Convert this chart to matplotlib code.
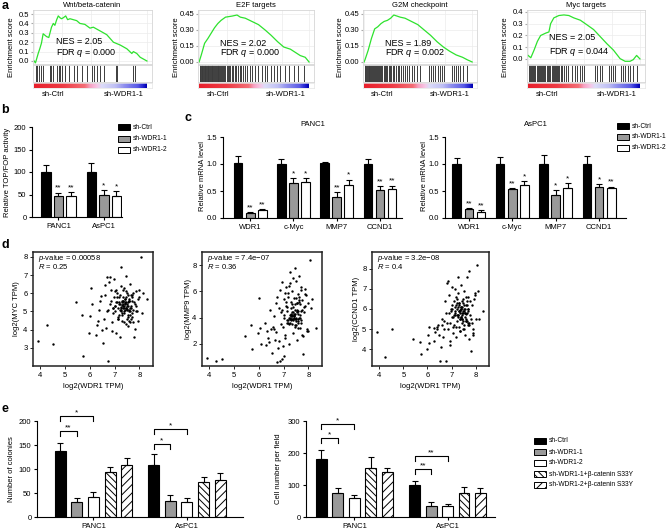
import numpy as np
import matplotlib
matplotlib.use('Agg')
import matplotlib.pyplot as plt
from matplotlib.patches import Rectangle
from matplotlib.colors import LinearSegmentedColormap

plt.rcParams.update({
    'font.family': ['Liberation Sans', 'DejaVu Sans'],
    'mathtext.fontset': 'custom',
    'mathtext.rm': 'Liberation Sans',
    'mathtext.it': 'Liberation Sans:italic',
    'font.size': 5.5,
    'hatch.linewidth': 0.7,
    'axes.linewidth': 0.8,
    'xtick.major.width': 0.8, 'ytick.major.width': 0.8,
    'xtick.major.size': 2.5, 'ytick.major.size': 2.5,
    'xtick.major.pad': 1.5, 'ytick.major.pad': 1.5,
    'xtick.direction': 'out', 'ytick.direction': 'out',
})

# ---------------- data: panel a (GSEA) ----------------
gsea_titles = ['Wnt/beta-catenin', 'E2F targets', 'G2M checkpoint', 'Myc targets']
gsea_nes = ['2.05', '2.02', '1.89', '2.05']
gsea_fdr = ['0.000', '0.000', '0.002', '0.044']

wnt_rank = [0, 1.2, 3.6, 5, 6.5, 8, 11, 13, 15.4, 17, 18.4, 20, 21.4, 23, 24.3, 25.8, 28, 29.7,
            31.8, 34.7, 37.7, 40.6, 45, 49.5, 52.5, 58.5, 64.4, 70.3, 76.3, 82.2, 86.6, 88, 91, 94, 100]
wnt_es = [0.0, -0.02, 0.08, 0.13, 0.19, 0.29, 0.26, 0.25, 0.36, 0.40, 0.38, 0.44, 0.48, 0.46, 0.45,
          0.46, 0.48, 0.44, 0.45, 0.44, 0.43, 0.40, 0.39, 0.35, 0.36, 0.32, 0.28, 0.20, 0.17, 0.13,
          0.08, 0.10, 0.08, 0.04, 0.0]
wnt_hits = [1.5, 2.7, 4.5, 6.2, 8, 14, 15.4, 17, 20, 21.7, 22.8, 24.6, 27.3, 30.9, 35.3, 38.3,
            42.7, 47.2, 51, 53, 55.5, 58.5, 62, 72.4, 73.9, 87.5, 89.6]

e2f_rank = [0, 2, 5, 8, 11, 14, 17, 20, 24, 30, 34.5, 37.5, 42, 48, 54, 60, 65.5, 71.4, 77, 83,
            89, 92, 96.5, 100]
e2f_es = [0.0, 0.066, 0.175, 0.22, 0.27, 0.32, 0.36, 0.39, 0.42, 0.43, 0.44, 0.42, 0.41, 0.38,
          0.35, 0.30, 0.25, 0.19, 0.14, 0.12, 0.08, 0.06, 0.044, 0.0]
e2f_hits = [0.5, 1, 1.5, 2.2, 3, 3.5, 4.2, 5, 5.6, 6.3, 7, 7.8, 8.5, 9.2, 10, 10.6, 11.4, 12, 13,
            13.7, 14.5, 15.2, 16, 17, 17.6, 18.5, 19.3, 20, 21, 22, 23, 24, 25, 26, 27.5, 28.5, 30,
            31, 32.5, 34, 35.5, 37, 38.5, 40, 42, 44, 46, 48, 51, 54, 57, 60, 62, 65, 68, 71, 74,
            78, 82, 86, 90, 95]

g2m_rank = [0, 1, 3.8, 6.8, 9.8, 12.7, 15.7, 18.6, 21.6, 24.6, 27.5, 30.5, 33.4, 37.9, 43.8,
            49.7, 55.6, 61.5, 67.5, 73.4, 79.3, 85.2, 91.1, 95.6, 100]
g2m_es = [0.0, 0.025, 0.11, 0.22, 0.31, 0.33, 0.36, 0.38, 0.39, 0.41, 0.44, 0.43, 0.42, 0.41,
          0.38, 0.35, 0.30, 0.25, 0.19, 0.14, 0.10, 0.066, 0.044, 0.02, 0.0]
g2m_hits = [0.5, 1.2, 2, 2.8, 3.5, 4.3, 5, 5.8, 6.5, 7.3, 8, 9, 10, 11, 12, 13, 14, 15, 16, 17,
            18, 19, 20, 21.5, 23, 24, 25, 26.5, 28, 29.5, 31, 32.5, 34, 36, 38, 40, 42, 44, 46,
            49, 52, 60, 62, 64, 66, 68, 70, 72, 74, 81, 83, 85, 87, 89, 92, 95]

myc_rank = [0, 2.4, 5.3, 8.3, 11.2, 15.7, 18.6, 20.1, 23, 27.5, 32, 36.4, 40.8, 46.7, 52.7,
            58.6, 64.5, 70.4, 76.3, 82.2, 86.7, 91.1, 94, 97, 100]
myc_es = [0.03, 0.01, 0.075, 0.15, 0.20, 0.22, 0.23, 0.30, 0.35, 0.37, 0.375, 0.37, 0.35, 0.33,
          0.29, 0.25, 0.19, 0.13, 0.075, 0.003, -0.02, -0.02, -0.006, 0.03, 0.0]
myc_hits = [0.5, 1.5, 2.5, 3.5, 4.5, 5.5, 6.5, 7.5, 8.5, 9.5, 10.5, 11.5, 12.5, 13.5, 14.5, 15.5,
            17, 18, 19, 20, 21, 22, 23, 24, 25, 26, 27, 28, 29, 30, 32, 34, 36, 39, 42, 44, 46,
            48, 50, 60, 62, 64, 66, 72, 74, 76, 78, 83, 85, 87, 89, 91, 94, 97]

# ---------------- data: panel b ----------------
series3 = ['sh-Ctrl', 'sh-WDR1-1', 'sh-WDR1-2']
series5 = ['sh-Ctrl', 'sh-WDR1-1', 'sh-WDR1-2',
           'sh-WDR1-1+β-catenin S33Y', 'sh-WDR1-2+β-catenin S33Y']
cell_lines = ['PANC1', 'AsPC1']
b_vals = [[100, 100], [47, 50], [47, 47]]
b_errs = [[16, 21], [7, 9], [9, 10]]
b_stars = [['', ''], ['**', '*'], ['**', '*']]

# ---------------- data: panel c ----------------
c_genes = ['WDR1', 'c-Myc', 'MMP7', 'CCND1']
c_panc1_vals = [[1.02, 1.00, 1.02, 1.00], [0.09, 0.64, 0.39, 0.52], [0.14, 0.67, 0.62, 0.54]]
c_panc1_errs = [[0.12, 0.10, 0.02, 0.09], [0.02, 0.10, 0.09, 0.07], [0.02, 0.07, 0.09, 0.06]]
c_panc1_stars = [['', '', '', ''], ['**', '*', '**', '**'], ['**', '*', '*', '**']]
c_aspc1_vals = [[1.00, 1.00, 1.00, 1.00], [0.16, 0.54, 0.43, 0.58], [0.12, 0.61, 0.56, 0.56]]
c_aspc1_errs = [[0.12, 0.13, 0.16, 0.14], [0.02, 0.01, 0.08, 0.05], [0.03, 0.07, 0.08, 0.02]]
c_aspc1_stars = [['', '', '', ''], ['**', '**', '*', '*'], ['**', '*', '*', '**']]

# ---------------- data: panel d ----------------
wdr1_tpm = [3.92, 4.25, 4.52, 5.42, 5.70, 5.72, 6.05, 6.07, 6.02, 5.97,
            6.25, 6.38, 6.31, 6.28, 6.45, 6.62, 6.70, 6.82, 6.52, 6.75,
            7.25, 7.45, 8.05, 8.30, 7.80, 7.82, 6.85, 6.90, 6.95, 7.00,
            7.02, 7.05, 7.08, 7.10, 7.12, 7.15, 7.18, 7.20, 7.22, 7.24,
            7.26, 7.28, 7.30, 7.32, 7.34, 7.36, 7.38, 7.40, 7.42, 7.44,
            7.46, 7.48, 7.50, 7.52, 7.54, 7.56, 7.58, 7.60, 7.62, 7.64,
            7.66, 7.68, 7.70, 7.72, 7.75, 7.78, 7.85, 7.90, 7.95, 8.00,
            6.60, 6.65, 6.72, 6.78, 6.88, 6.92, 6.98, 7.03, 7.07, 7.13,
            7.17, 7.21, 7.27, 7.31, 7.35, 7.39, 7.43, 7.47, 7.51, 7.55,
            7.59, 7.63, 7.67, 7.71, 7.74, 7.83, 7.88, 7.93, 8.10, 8.15,
            6.40, 6.55, 6.80, 6.97, 7.11, 7.23, 7.29, 7.33, 7.37, 7.41,
            7.45, 7.49, 7.53, 7.57, 7.61, 7.65, 7.69, 7.73, 7.87, 7.97,
            6.48, 6.68, 6.86, 7.01, 7.14, 7.19, 7.25, 7.34, 7.44, 7.52,
            7.58, 7.36, 7.28, 7.40, 7.48, 7.62, 7.70, 7.06, 6.93, 7.16,
            7.32, 7.38, 7.46, 7.54, 7.30, 7.42, 7.50, 7.24, 7.34, 7.60]
myc_tpm = [3.35, 4.23, 3.20, 5.51, 4.78, 2.56, 6.28, 5.42, 4.73, 3.81,
           3.70, 5.09, 4.45, 4.26, 5.87, 6.46, 6.92, 6.92, 3.26, 2.29,
           7.47, 6.94, 8.02, 5.69, 3.62, 4.03, 5.6, 3.9, 4.9, 6.1,
           5.3, 3.8, 5.5, 6.0, 4.6, 5.2, 5.8, 3.6, 5.4, 6.4,
           5.1, 4.8, 5.6, 5.3, 6.2, 4.4, 5.0, 5.7, 5.5, 4.3,
           5.2, 6.0, 5.4, 4.7, 5.9, 5.1, 4.5, 5.6, 6.5, 5.0,
           4.6, 5.3, 5.8, 4.9, 6.0, 5.5, 6.1, 5.0, 4.5, 5.8,
           5.9, 4.1, 5.1, 6.6, 4.4, 5.2, 5.8, 5.0, 6.2, 4.7,
           5.4, 5.9, 5.2, 4.9, 5.6, 6.3, 5.1, 5.5, 4.6, 5.3,
           5.7, 4.8, 5.2, 5.9, 4.4, 5.4, 5.0, 5.7, 4.9, 6.0,
           5.6, 4.6, 5.4, 6.8, 5.8, 5.1, 5.5, 5.2, 4.9, 5.7,
           6.1, 5.3, 4.8, 5.6, 5.2, 5.9, 4.7, 5.1, 5.3, 6.2,
           4.0, 5.0, 6.2, 5.3, 4.6, 5.5, 5.0, 5.8, 5.2, 5.5,
           5.0, 5.3, 4.5, 5.4, 5.1, 4.4, 5.6, 5.5, 5.2, 4.8,
           5.6, 5.2, 5.8, 4.2, 5.35, 5.45, 5.15, 5.25, 5.4, 5.6]
mmp9_tpm = [0.90, 0.70, 0.80, 2.6, 3.4, 1.6, 3.2, 2.0, 5.5, 2.8,
            3.6, 2.4, 3.0, 1.9, 4.6, 3.1, 5.1, 2.2, 1.3, 0.6,
            7.5, 7.8, 8.4, 3.2, 1.2, 4.8, 6.1, 3.5, 0.8, 5.4,
            4.2, 2.7, 4.9, 6.3, 3.8, 4.5, 5.6, 2.0, 4.0, 6.6,
            3.9, 4.7, 5.2, 3.5, 6.0, 4.4, 2.8, 5.5, 4.1, 3.3,
            4.6, 6.8, 3.9, 5.1, 2.3, 4.3, 5.8, 3.6, 7.2, 4.0,
            5.0, 3.2, 6.3, 4.5, 5.3, 2.6, 4.9, 5.7, 3.0, 5.1,
            4.1, 2.3, 5.6, 1.7, 4.4, 6.7, 3.3, 1.1, 5.9, 4.8,
            3.6, 6.4, 4.2, 3.8, 5.0, 7.0, 4.3, 3.4, 5.5, 4.6,
            3.9, 5.2, 4.0, 6.1, 2.7, 4.4, 5.8, 3.1, 4.7, 5.4,
            2.1, 3.3, 4.7, 1.8, 5.2, 3.5, 4.3, 3.9, 4.8, 4.1,
            5.0, 3.7, 4.5, 3.2, 5.6, 4.2, 3.8, 4.6, 6.2, 3.0,
            3.1, 2.9, 0.65, 4.0, 3.6, 5.9, 4.0, 4.2, 3.9, 4.4,
            3.7, 3.9, 4.1, 4.0, 3.4, 5.3, 3.6, 2.4, 4.6, 3.8,
            4.1, 3.8, 4.3, 5.1, 3.9, 4.2, 4.0, 3.6, 4.4, 4.5]
ccnd1_tpm = [4.85, 3.60, 5.00, 4.50, 4.35, 3.75, 4.30, 5.10, 4.70, 4.00,
             5.05, 5.00, 4.85, 4.40, 5.20, 5.50, 5.00, 7.30, 3.40, 3.40,
             7.60, 6.10, 8.20, 5.90, 3.90, 5.50, 7.40, 5.80, 4.20, 6.20,
             5.6, 4.8, 6.4, 5.2, 7.0, 5.9, 4.6, 6.6, 5.4, 6.0,
             5.7, 6.8, 5.1, 6.3, 5.5, 4.9, 6.1, 7.2, 5.8, 5.3,
             6.5, 5.0, 5.9, 6.9, 5.6, 4.7, 6.2, 5.4, 7.6, 5.8,
             6.0, 5.2, 6.6, 4.5, 5.7, 6.4, 5.3, 4.8, 6.7, 5.5,
             5.2, 4.6, 6.4, 5.8, 6.7, 5.3, 5.9, 7.1, 5.6, 6.1,
             5.1, 6.5, 5.7, 6.2, 4.9, 6.0, 5.5, 6.3, 5.0, 5.8,
             6.6, 5.4, 6.0, 5.2, 7.9, 6.2, 5.0, 6.5, 6.9, 5.5,
             5.1, 4.1, 5.3, 6.0, 5.7, 6.3, 5.9, 5.5, 6.1, 5.6,
             6.4, 5.8, 5.2, 6.0, 5.4, 6.2, 5.9, 5.3, 4.7, 6.8,
             4.7, 5.4, 5.0, 6.0, 5.8, 6.2, 5.6, 5.9, 5.7, 6.0,
             5.5, 5.8, 6.1, 5.6, 5.9, 6.4, 5.3, 5.1, 4.4, 5.7,
             5.9, 6.0, 5.4, 5.8, 6.3, 5.5, 6.2, 5.7, 5.95, 5.75]
d_ylabels = ['log2(MYC TPM)', 'log2(MMP9 TPM)', 'log2(CCND1 TPM)']
d_pvalues = ['0.00058', '7.4e\u221207', '3.2e\u221208']
d_rvalues = ['0.25', '0.36', '0.4']

# ---------------- data: panel e ----------------
e_col_vals = [[137, 108], [31, 33], [41, 31], [93, 73], [108, 77]]
e_col_errs = [[17, 23], [9, 13], [11, 9], [11, 10], [15, 15]]
e_col_brackets = [(0, 0, 1, 179, '**'), (0, 0, 2, 210, '*'), (1, 0, 1, 152, '*'), (1, 0, 2, 183, '*')]
e_cell_vals = [[181, 100], [75, 34], [59, 35], [153, 74], [140, 74]]
e_cell_errs = [[28, 12], [16, 13], [10, 7], [34, 19], [13, 18]]
e_cell_brackets = [(0, 0, 1, 247, '*'), (0, 0, 2, 290, '*'), (1, 0, 1, 150, '**'), (1, 0, 2, 191, '**')]

# ---------------- figure helpers ----------------
W, H = 668, 530
fig = plt.figure(figsize=(W / 100, H / 100), dpi=100)


def add_ax(l, t, r, b):
    return fig.add_axes([l / W, 1 - b / H, (r - l) / W, (b - t) / H])


def ftext(x, y, s, **kw):
    return fig.text(x / W, 1 - y / H, s, **kw)


# panel letters
for (lx, ly, lt) in [(5, 6, 'a'), (5, 110, 'b'), (188, 118, 'c'), (5, 245, 'd'), (5, 409, 'e')]:
    ftext(lx, ly, lt, fontsize=9, fontweight='bold', ha='center', va='center')

# ---------------- panel a ----------------
gsea_ranks = [wnt_rank, e2f_rank, g2m_rank, myc_rank]
gsea_es = [wnt_es, e2f_es, g2m_es, myc_es]
gsea_hits = [wnt_hits, e2f_hits, g2m_hits, myc_hits]
a_x = [(33, 152), (198, 314), (363, 477), (527, 645)]
a_ylims = [(-0.032, 0.543), (-0.019, 0.487), (-0.019, 0.487), (-0.043, 0.417)]
a_yticks = [[0, 0.1, 0.2, 0.3, 0.4, 0.5], [0, 0.15, 0.30, 0.45], [0, 0.15, 0.30, 0.45],
            [0, 0.1, 0.2, 0.3, 0.4]]
a_fmt = ['%.1f', '%.2f', '%.2f', '%.1f']
a_nes_y = [(42, 53), (43, 53), (43, 53), (37, 52)]
a_ylab_x = [12, 176, 340, 505]
cmap = LinearSegmentedColormap.from_list('rank', [
    (0.0, '#e8202c'), (0.25, '#ee3a44'), (0.45, '#f46e76'), (0.5, '#f7a3c4'),
    (0.56, '#f6c6e6'), (0.6, '#dcdcf8'), (0.72, '#c0c0f4'), (0.8, '#9090ee'),
    (0.92, '#5a5ae6'), (0.97, '#2020d0'), (1.0, '#0000b0')])
XL = (-1, 104.5)
for i in range(4):
    l, r = a_x[i]
    ax = add_ax(l, 10, r, 64)
    ax.plot(gsea_ranks[i], gsea_es[i], color='#2ee22e', lw=0.9)
    ax.set_xlim(*XL)
    ax.set_ylim(*a_ylims[i])
    ax.set_yticks(a_yticks[i])
    ax.set_yticklabels([a_fmt[i] % v for v in a_yticks[i]])
    ax.set_xticks([0, 25, 50, 75, 100])
    ax.tick_params(axis='x', length=0, labelbottom=False)
    ax.tick_params(axis='y', length=1.5, color='#aaaaaa', labelsize=5.5, pad=1)
    ax.grid(True, color='#ececec', lw=0.5)
    ax.set_axisbelow(True)
    for s in ax.spines.values():
        s.set_color('#d6d6d6'); s.set_linewidth(0.6)
    ax.set_title(gsea_titles[i], fontsize=5.5, pad=2)
    ftext(a_ylab_x[i], 47, 'Enrichment score', rotation=90, ha='center', va='center', fontsize=5.5)
    nx = l + 0.19 * (r - l)
    ftext(nx, a_nes_y[i][0], 'NES = ' + gsea_nes[i], fontsize=6.5, va='center')
    ftext(nx, a_nes_y[i][1], 'FDR $q$ = ' + gsea_fdr[i], fontsize=6.5, va='center')

    hx = add_ax(l, 65, r, 82)
    hx.vlines(gsea_hits[i], 0, 1, color='#3c3c3c', lw=0.7)
    hx.set_xlim(*XL); hx.set_ylim(0, 1)
    hx.set_xticks([]); hx.set_yticks([])
    for s in hx.spines.values():
        s.set_color('#d6d6d6'); s.set_linewidth(0.6)

    cx = add_ax(l, 83, r, 88)
    cx.imshow(np.linspace(0, 1, 200)[None, :], aspect='auto', cmap=cmap, extent=(0, 100, 0, 1))
    cx.set_xlim(*XL); cx.set_ylim(0, 1)
    cx.set_xticks([]); cx.set_yticks([])
    for s in cx.spines.values():
        s.set_color('#e4e4e4'); s.set_linewidth(0.5)
    ftext(l + 0.17 * (r - l), 95, 'sh-Ctrl', ha='center', va='center', fontsize=5.5)
    ftext(l + 0.76 * (r - l), 95, 'sh-WDR1-1', ha='center', va='center', fontsize=5.5)

# ---------------- bar helpers ----------------
styles5 = [dict(fc='black'), dict(fc='#999999'), dict(fc='white'),
           dict(fc='white', hatch='\\\\\\\\\\'), dict(fc='white', hatch='////')]


def style_bar_axes(ax):
    ax.spines['top'].set_visible(False)
    ax.spines['right'].set_visible(False)
    ax.tick_params(labelsize=5.5)


def draw_bars(ax, vals, errs, offsets, width, stars=None):
    for j, (v, e) in enumerate(zip(vals, errs)):
        st = styles5[j]
        x = np.arange(len(v)) + offsets[j]
        ax.bar(x, v, width, color=st['fc'], edgecolor='black', linewidth=0.8,
               hatch=st.get('hatch'), zorder=2)
        ax.errorbar(x, v, yerr=[np.zeros(len(v)), e], fmt='none', ecolor='black',
                    elinewidth=0.8, capsize=2, capthick=0.8, zorder=3)
        if stars is not None:
            for k, s in enumerate(stars[j]):
                if s:
                    ax.annotate(s, (x[k], v[k] + e[k]), xytext=(0, 0.6), textcoords='offset points',
                                ha='center', va='bottom', fontsize=6)


def legend_px(x, ys, labels, n, w=12, h=6, fs=4.8):
    for j in range(n):
        st = styles5[j]
        r = Rectangle((x / W, 1 - (ys[j] + h / 2) / H), w / W, h / H, transform=fig.transFigure,
                      facecolor=st['fc'], edgecolor='black', lw=0.7, hatch=st.get('hatch'))
        fig.add_artist(r)
        ftext(x + w + 3, ys[j], labels[j], va='center', ha='left', fontsize=fs)


def brackets(ax, offs, items, tip):
    for (g, a, b, y, s) in items:
        x1, x2 = g + offs[a], g + offs[b]
        ax.plot([x1, x1, x2, x2], [y - tip, y, y, y - tip], color='black', lw=0.8, clip_on=False)
        ax.annotate(s, ((x1 + x2) / 2, y), xytext=(0, -0.3), textcoords='offset points',
                    ha='center', va='bottom', fontsize=6, annotation_clip=False)


# ---------------- panel b ----------------
ax = add_ax(32, 127, 122, 217)
offs3b = [-0.275, 0, 0.275]
draw_bars(ax, b_vals, b_errs, offs3b, 0.21, b_stars)
ax.set_xlim(-0.58, 1.40); ax.set_ylim(0, 200)
ax.set_yticks([0, 50, 100, 150, 200])
ax.set_xticks([0, 1]); ax.set_xticklabels(cell_lines)
style_bar_axes(ax)
ftext(8, 172, 'Relative TOP/FOP activity', rotation=90, ha='center', va='center', fontsize=5.5)
legend_px(118, [127, 138.5, 150], series3, 3)

# ---------------- panel c ----------------
offs3c = [-0.28, 0, 0.28]
for (l, r, xl, vals, errs, stars, title, ylx) in [
        (223, 402, (-0.63, 3.51), c_panc1_vals, c_panc1_errs, c_panc1_stars, 'PANC1', 203),
        (445, 626, (-0.55, 3.62), c_aspc1_vals, c_aspc1_errs, c_aspc1_stars, 'AsPC1', 424)]:
    ax = add_ax(l, 137, r, 218)
    draw_bars(ax, vals, errs, offs3c, 0.2, stars)
    ax.set_xlim(*xl); ax.set_ylim(0, 1.5)
    ax.set_yticks([0, 0.5, 1.0, 1.5])
    ax.set_yticklabels(['0.0', '0.5', '1.0', '1.5'])
    ax.set_xticks(range(4)); ax.set_xticklabels(c_genes)
    style_bar_axes(ax)
    ftext((l + r) / 2, 124, title, ha='center', va='center', fontsize=5.5)
    ftext(ylx, 176, 'Relative mRNA level', rotation=90, ha='center', va='center', fontsize=5.5)
legend_px(617, [126, 137, 148], series3, 3)

# ---------------- panel d ----------------
d_x = [(33, 153), (202, 322), (372, 489)]
d_y = [myc_tpm, mmp9_tpm, ccnd1_tpm]
d_ylims = [(2.0, 8.27), (0.3, 9.0), (3.15, 8.85)]
d_yticks = [[3, 4, 5, 6, 7, 8], [2, 4, 6, 8], [4, 5, 6, 7, 8]]
d_ylab_x = [17, 188, 356]
for i in range(3):
    l, r = d_x[i]
    ax = add_ax(l, 252, r, 366)
    ax.scatter(wdr1_tpm, d_y[i], s=3, c='black', linewidths=0)
    ax.set_xlim(3.7, 8.55); ax.set_ylim(*d_ylims[i])
    ax.set_xticks([4, 5, 6, 7, 8]); ax.set_yticks(d_yticks[i])
    ax.tick_params(labelsize=5.5, width=0.6, length=2.5)
    for s in ax.spines.values():
        s.set_linewidth(1.1); s.set_color('#222222')
    ax.text(0.04, 0.945, '$p$-value = ' + d_pvalues[i], transform=ax.transAxes,
            va='center', ha='left', fontsize=5.5)
    ax.text(0.04, 0.87, '$R$ = ' + d_rvalues[i], transform=ax.transAxes,
            va='center', ha='left', fontsize=5.5)
    ftext((l + r) / 2, 386, 'log2(WDR1 TPM)', ha='center', va='center', fontsize=5.5)
    ftext(d_ylab_x[i], 309, d_ylabels[i], rotation=90, ha='center', va='center', fontsize=5.5)

# ---------------- panel e ----------------
offs5l = [-0.356, -0.178, 0, 0.178, 0.356]
ax = add_ax(37, 421, 243, 517)
draw_bars(ax, e_col_vals, e_col_errs, offs5l, 0.118)
ax.set_xlim(-0.603, 1.60); ax.set_ylim(0, 200)
ax.set_yticks([0, 50, 100, 150, 200])
ax.set_xticks([0, 1]); ax.set_xticklabels(cell_lines)
style_bar_axes(ax)
brackets(ax, offs5l, e_col_brackets, 10)
ftext(12, 469, 'Number of colonies', rotation=90, ha='center', va='center', fontsize=5.5)

offs5r = [-0.354, -0.177, 0, 0.177, 0.354]
ax = add_ax(306, 421, 495, 517)
draw_bars(ax, e_cell_vals, e_cell_errs, offs5r, 0.118)
ax.set_xlim(-0.52, 1.51); ax.set_ylim(0, 300)
ax.set_yticks([0, 100, 200, 300])
ax.set_xticks([0, 1]); ax.set_xticklabels(cell_lines)
style_bar_axes(ax)
brackets(ax, offs5r, e_cell_brackets, 15)
ftext(278, 469, 'Cell number per field', rotation=90, ha='center', va='center', fontsize=5.5)

legend_px(534, [441, 452, 463, 474, 485], series5, 5)

fig.savefig('out.png', dpi=100)
